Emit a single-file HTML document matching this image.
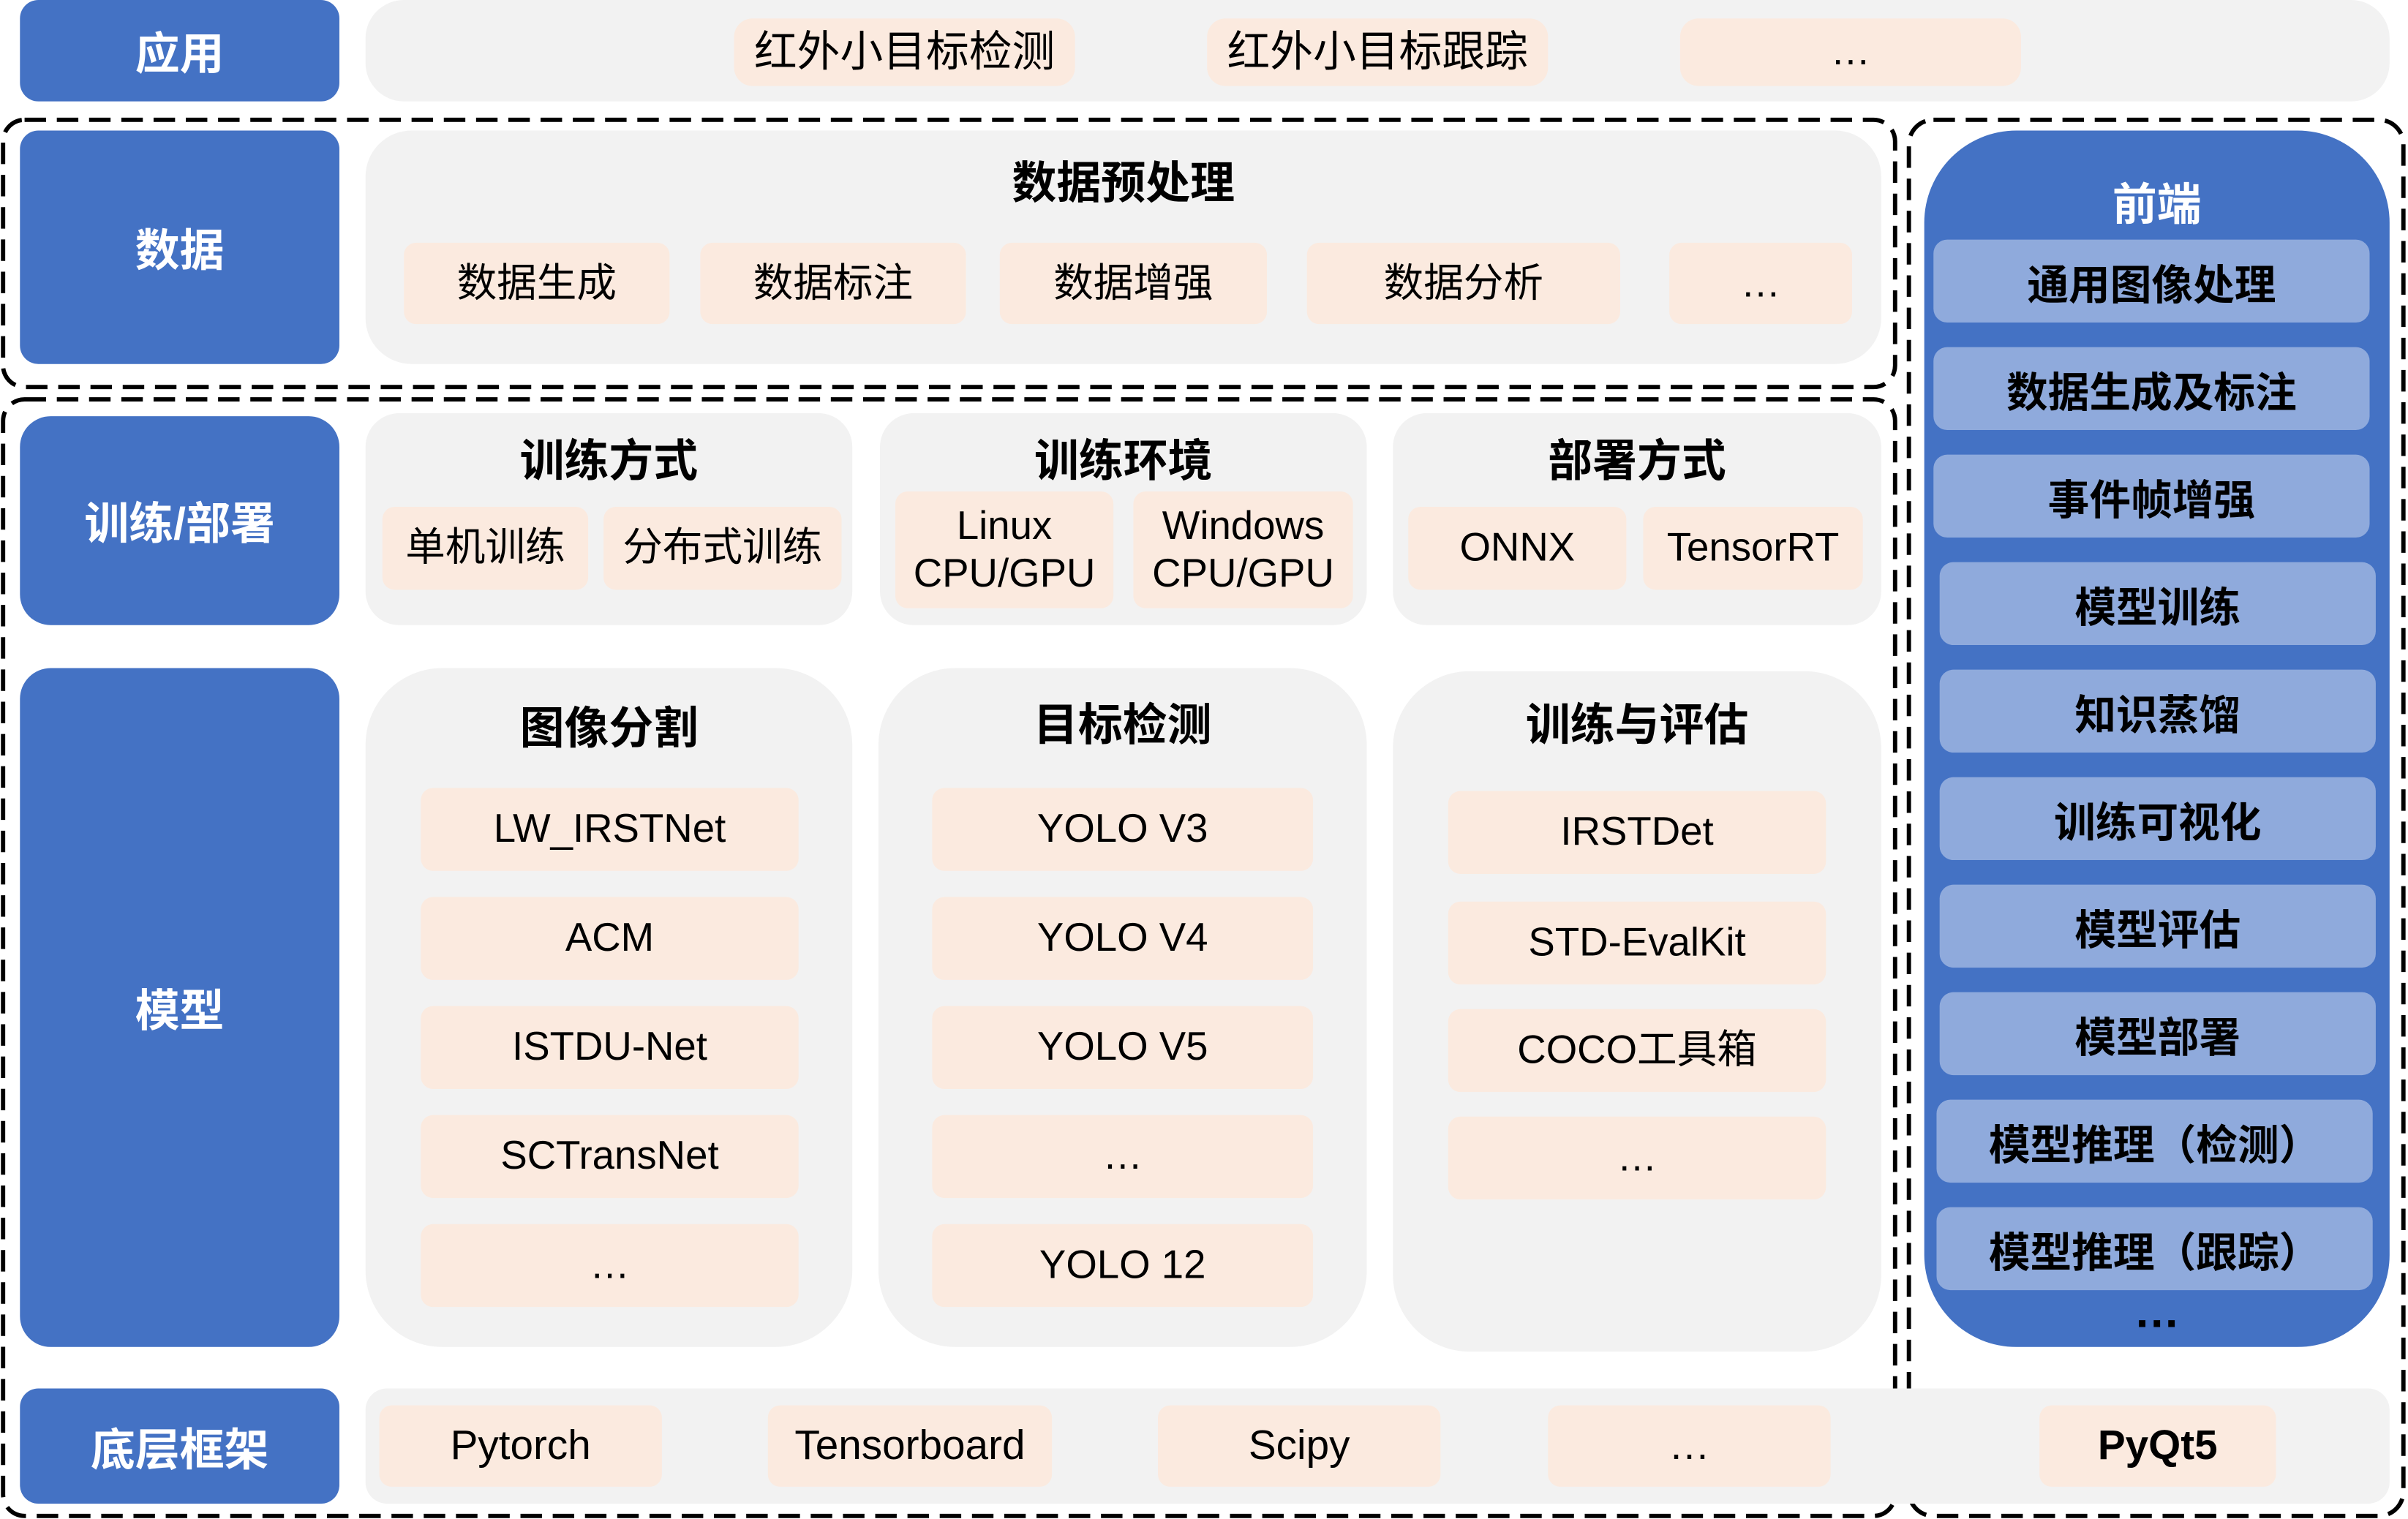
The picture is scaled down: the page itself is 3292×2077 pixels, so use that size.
<!DOCTYPE html>
<html><head><meta charset="utf-8"><style>
html,body{margin:0;padding:0;background:#fff;width:3292px;height:2077px;overflow:hidden}
#w{position:absolute;left:0;top:0;width:1568px;height:989px;transform:scale(2.0995,2.1001);transform-origin:0 0;font-family:"Liberation Sans","Noto Sans CJK SC",sans-serif}
.a{position:absolute;display:flex;align-items:center;justify-content:center;text-align:center;box-sizing:border-box}
.b{background:#4472c4;color:#fff;font-size:29px;border-radius:12px;font-weight:bold}
.g{background:#f2f2f2;border-radius:22px}
.o{background:#fbeadf;color:#000;font-size:26px;border-radius:8px;line-height:1.2}
.l{background:#8faadc;color:#000;font-size:27px;border-radius:9px;font-weight:bold}
.t{position:absolute;font-weight:bold;font-size:29px;color:#000;text-align:center}
</style></head><body><div id="w">
<svg style="position:absolute;left:0;top:0" width="1568" height="989">
<g fill="none" stroke="#000" stroke-width="2.8" stroke-dasharray="14,7">
<rect x="2" y="78" width="1232" height="174" rx="14"/>
<rect x="2" y="260" width="1232" height="727" rx="14"/>
<rect x="1243" y="78" width="322" height="909" rx="16"/>
</g></svg>
<!-- row 1 -->
<div class="a b" style="left:13px;top:0;width:208px;height:66px">应用</div>
<div class="a g" style="left:238px;top:0;width:1318px;height:66px;border-radius:25px"></div>
<div class="a o" style="left:478px;top:12px;width:222px;height:44px;border-radius:12px;font-size:28px">红外小目标检测</div>
<div class="a o" style="left:786px;top:12px;width:222px;height:44px;border-radius:12px;font-size:28px">红外小目标跟踪</div>
<div class="a o" style="left:1094px;top:12px;width:222px;height:44px;border-radius:12px">…</div>
<!-- data -->
<div class="a b" style="left:13px;top:85px;width:208px;height:152px">数据</div>
<div class="a g" style="left:238px;top:85px;width:987px;height:152px;border-radius:30px"></div>
<div class="t" style="left:238px;top:96px;width:987px">数据预处理</div>
<div class="a o" style="left:263px;top:158px;width:173px;height:53px">数据生成</div>
<div class="a o" style="left:456px;top:158px;width:173px;height:53px">数据标注</div>
<div class="a o" style="left:651px;top:158px;width:174px;height:53px">数据增强</div>
<div class="a o" style="left:851px;top:158px;width:204px;height:53px">数据分析</div>
<div class="a o" style="left:1087px;top:158px;width:119px;height:53px">…</div>
<!-- train/deploy -->
<div class="a b" style="left:13px;top:271px;width:208px;height:136px;border-radius:20px">训练/部署</div>
<div class="a g" style="left:238px;top:269px;width:317px;height:138px"></div>
<div class="a g" style="left:573px;top:269px;width:317px;height:138px"></div>
<div class="a g" style="left:907px;top:269px;width:318px;height:138px"></div>
<div class="t" style="left:238px;top:277px;width:317px">训练方式</div>
<div class="t" style="left:573px;top:277px;width:317px">训练环境</div>
<div class="t" style="left:907px;top:277px;width:318px">部署方式</div>
<div class="a o" style="left:249px;top:330px;width:134px;height:54px">单机训练</div>
<div class="a o" style="left:393px;top:330px;width:155px;height:54px">分布式训练</div>
<div class="a o" style="left:583px;top:320px;width:142px;height:76px">Linux<br>CPU/GPU</div>
<div class="a o" style="left:738px;top:320px;width:143px;height:76px">Windows<br>CPU/GPU</div>
<div class="a o" style="left:917px;top:330px;width:142px;height:54px">ONNX</div>
<div class="a o" style="left:1070px;top:330px;width:143px;height:54px">TensorRT</div>
<!-- model -->
<div class="a b" style="left:13px;top:435px;width:208px;height:442px;border-radius:20px">模型</div>
<div class="a g" style="left:238px;top:435px;width:317px;height:442px;border-radius:50px"></div>
<div class="a g" style="left:572px;top:435px;width:318px;height:442px;border-radius:50px"></div>
<div class="a g" style="left:907px;top:437px;width:318px;height:443px;border-radius:50px"></div>
<div class="t" style="left:238px;top:451px;width:317px">图像分割</div>
<div class="t" style="left:572px;top:449px;width:318px">目标检测</div>
<div class="t" style="left:907px;top:449px;width:318px">训练与评估</div>
<div class="a o" style="left:274px;top:513px;width:246px;height:54px">LW_IRSTNet</div>
<div class="a o" style="left:274px;top:584px;width:246px;height:54px">ACM</div>
<div class="a o" style="left:274px;top:655px;width:246px;height:54px">ISTDU-Net</div>
<div class="a o" style="left:274px;top:726px;width:246px;height:54px">SCTransNet</div>
<div class="a o" style="left:274px;top:797px;width:246px;height:54px">…</div>
<div class="a o" style="left:607px;top:513px;width:248px;height:54px">YOLO V3</div>
<div class="a o" style="left:607px;top:584px;width:248px;height:54px">YOLO V4</div>
<div class="a o" style="left:607px;top:655px;width:248px;height:54px">YOLO V5</div>
<div class="a o" style="left:607px;top:726px;width:248px;height:54px">…</div>
<div class="a o" style="left:607px;top:797px;width:248px;height:54px">YOLO 12</div>
<div class="a o" style="left:943px;top:515px;width:246px;height:54px">IRSTDet</div>
<div class="a o" style="left:943px;top:587px;width:246px;height:54px">STD-EvalKit</div>
<div class="a o" style="left:943px;top:657px;width:246px;height:54px">COCO工具箱</div>
<div class="a o" style="left:943px;top:727px;width:246px;height:54px">…</div>
<!-- base -->
<div class="a b" style="left:13px;top:904px;width:208px;height:75px">底层框架</div>
<div class="a g" style="left:238px;top:904px;width:1318px;height:75px;border-radius:14px"></div>
<div class="a o" style="left:247px;top:915px;width:184px;height:53px;font-size:27px">Pytorch</div>
<div class="a o" style="left:500px;top:915px;width:185px;height:53px;font-size:27px">Tensorboard</div>
<div class="a o" style="left:754px;top:915px;width:184px;height:53px;font-size:27px">Scipy</div>
<div class="a o" style="left:1008px;top:915px;width:184px;height:53px;font-size:27px">…</div>
<div class="a o" style="left:1328px;top:915px;width:154px;height:53px;font-size:27px;font-weight:bold">PyQt5</div>
<!-- frontend -->
<div class="a b" style="left:1253px;top:85px;width:303px;height:792px;border-radius:60px"></div>
<div class="t" style="left:1253px;top:110px;width:303px;color:#fff">前端</div>
<div class="a l" style="left:1259px;top:156px;width:284px;height:54px">通用图像处理</div>
<div class="a l" style="left:1259px;top:226px;width:284px;height:54px">数据生成及标注</div>
<div class="a l" style="left:1259px;top:296px;width:284px;height:54px">事件帧增强</div>
<div class="a l" style="left:1263px;top:366px;width:284px;height:54px">模型训练</div>
<div class="a l" style="left:1263px;top:436px;width:284px;height:54px">知识蒸馏</div>
<div class="a l" style="left:1263px;top:506px;width:284px;height:54px">训练可视化</div>
<div class="a l" style="left:1263px;top:576px;width:284px;height:54px">模型评估</div>
<div class="a l" style="left:1263px;top:646px;width:284px;height:54px">模型部署</div>
<div class="a l" style="left:1261px;top:716px;width:284px;height:54px">模型推理（检测）</div>
<div class="a l" style="left:1261px;top:786px;width:284px;height:54px">模型推理（跟踪）</div>
<div class="t" style="left:1253px;top:838px;width:303px;font-size:30px">…</div>
</div></body></html>
